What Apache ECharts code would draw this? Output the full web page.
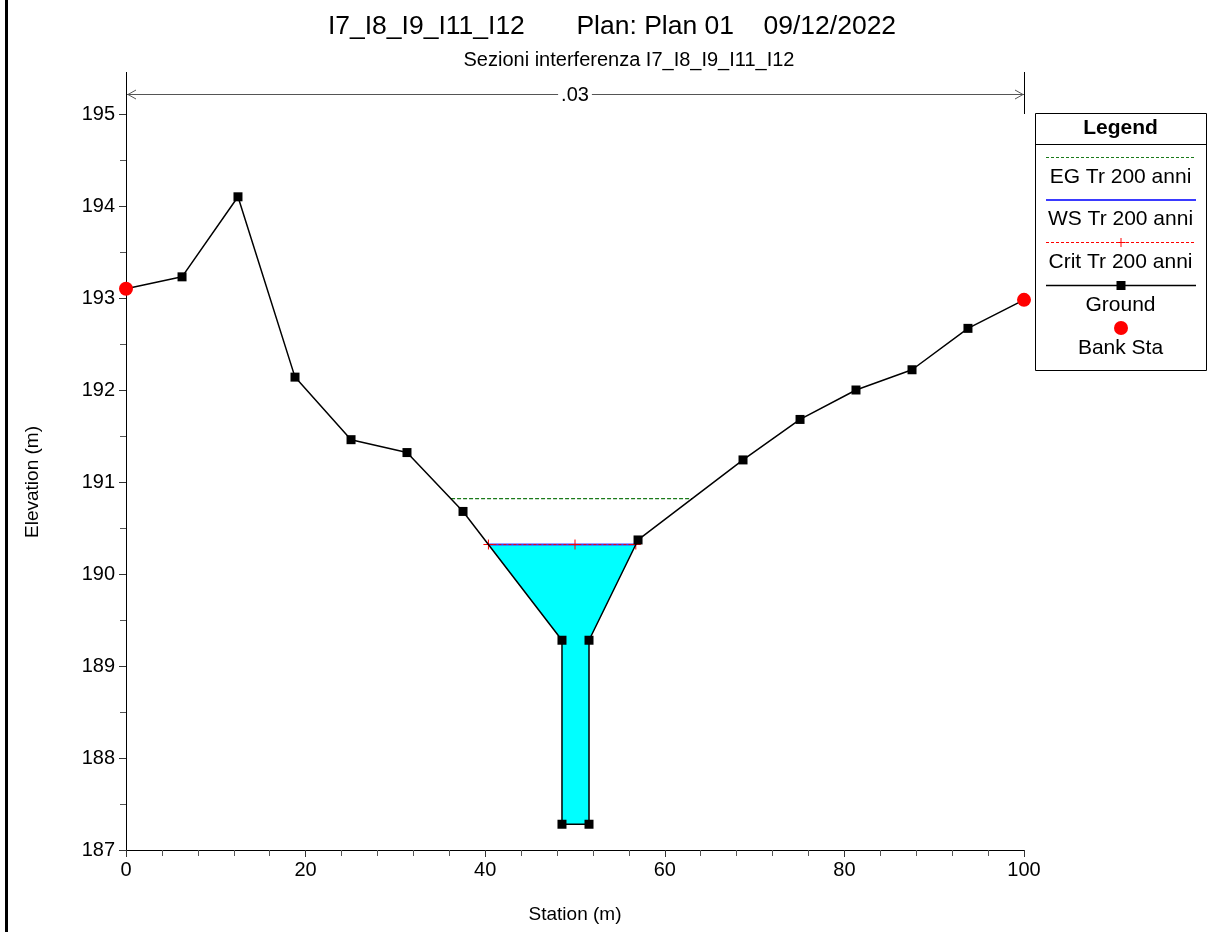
<!DOCTYPE html>
<html>
<head>
<meta charset="utf-8">
<script src="https://cdn.jsdelivr.net/npm/echarts@6/dist/echarts.min.js"></script>
<style>
html,body{margin:0;padding:0;background:#fff;}
#chart{width:1215px;height:932px;}
</style>
</head>
<body>
<div id="chart"></div>
<script>
// ---- data ----
var groundStation = [0, 6.24, 12.47, 18.82, 25.06, 31.29, 37.53, 48.55, 48.55, 51.56, 51.56, 57.02, 68.71, 75.06, 81.29, 87.53, 93.76, 100];
var groundElev    = [193.10, 193.23, 194.10, 192.14, 191.46, 191.32, 190.68, 189.28, 187.28, 187.28, 189.28, 190.37, 191.24, 191.68, 192.00, 192.22, 192.67, 192.98];
var bankStation = [0, 100];
var bankElev = [193.10, 192.98];
var egStation = [36.2, 63.05];
var egElev = 190.82;
var wsStation = [40.36, 56.77];
var wsElev = 190.32;
var critStation = [40.36, 50.0, 56.77];
var critElev = 190.32;
var waterStation = [40.36, 48.55, 48.55, 51.56, 51.56, 56.77];
var waterElev    = [190.32, 189.28, 187.28, 187.28, 189.28, 190.32];
var xTicks = [0, 20, 40, 60, 80, 100];
var yTicks = [187, 188, 189, 190, 191, 192, 193, 194, 195];
var manningLabel = '.03';
var manningRange = [0, 100];
var legendItems = ['EG Tr 200 anni', 'WS Tr 200 anni', 'Crit Tr 200 anni', 'Ground', 'Bank Sta'];

var FONT = '"Liberation Sans", Arial, sans-serif';
function pairs(xs, ys) {
  return xs.map(function (x, i) { return [x, Array.isArray(ys) ? ys[i] : ys]; });
}
var plusPath = 'path://M4.5,0h1v4.5h4.5v1h-4.5v4.5h-1v-4.5h-4.5v-1h4.5z';

var chart = echarts.init(document.getElementById('chart'), null, {renderer: 'canvas'});
var option = {
  backgroundColor: '#fff',
  animation: false,
  title: [
    {text: 'I7_I8_I9_I11_I12       Plan: Plan 01    09/12/2022', left: 607, top: 8, textAlign: 'center',
     textStyle: {fontFamily: FONT, fontSize: 26.5, fontWeight: 'normal', color: '#000'}},
    {text: 'Sezioni interferenza I7_I8_I9_I11_I12', left: 624, top: 45, textAlign: 'center',
     textStyle: {fontFamily: FONT, fontSize: 20, fontWeight: 'normal', color: '#000'}}
  ],
  grid: {left: 126, right: 191, top: 114, bottom: 82, containLabel: false},
  xAxis: {
    type: 'value', min: xTicks[0], max: xTicks[xTicks.length - 1], interval: 20,
    name: 'Station (m)', nameLocation: 'middle', nameGap: 55,
    nameTextStyle: {fontFamily: FONT, fontSize: 19, color: '#000'},
    axisLine: {show: true, onZero: false, lineStyle: {color: '#000', width: 1}},
    axisTick: {show: true, length: 7, lineStyle: {color: '#333'}},
    minorTick: {show: true, splitNumber: 5, length: 6, lineStyle: {color: '#555'}},
    axisLabel: {fontFamily: FONT, fontSize: 20, color: '#000', margin: 10},
    splitLine: {show: false}
  },
  yAxis: {
    type: 'value', min: yTicks[0], max: yTicks[yTicks.length - 1], interval: 1,
    name: 'Elevation (m)', nameLocation: 'middle', nameGap: 84,
    nameTextStyle: {fontFamily: FONT, fontSize: 19, color: '#000'},
    axisLine: {show: true, onZero: false, lineStyle: {color: '#000', width: 1}},
    axisTick: {show: true, length: 7, lineStyle: {color: '#333'}},
    minorTick: {show: true, splitNumber: 2, length: 6, lineStyle: {color: '#555'}},
    axisLabel: {fontFamily: FONT, fontSize: 20, color: '#000', margin: 11},
    splitLine: {show: false}
  },
  series: [
    {
      name: 'Water', type: 'custom', z: 1, silent: true,
      data: [0],
      renderItem: function (params, api) {
        var pts = waterStation.map(function (s, i) { return api.coord([s, waterElev[i]]); });
        return {type: 'polygon', shape: {points: pts}, style: {fill: '#00ffff', stroke: null}};
      }
    },
    {
      name: legendItems[0], type: 'line', z: 3, data: pairs(egStation, egElev), symbol: 'none',
      lineStyle: {color: '#1a7a1a', width: 1.2, type: [4, 2]}
    },
    {
      name: legendItems[1], type: 'line', z: 3, data: pairs(wsStation, wsElev), symbol: 'none',
      lineStyle: {color: '#3a3aff', width: 2}
    },
    {
      name: legendItems[2], type: 'line', z: 4, data: pairs(critStation, critElev),
      symbol: plusPath, symbolSize: 10, itemStyle: {color: '#ff0000'},
      lineStyle: {color: '#ff0000', width: 1, type: [3, 2]}
    },
    {
      name: legendItems[3], type: 'line', z: 5, data: pairs(groundStation, groundElev),
      symbol: 'rect', symbolSize: 9, itemStyle: {color: '#000'},
      lineStyle: {color: '#000', width: 1.5}
    },
    {
      name: legendItems[4], type: 'scatter', z: 6, data: pairs(bankStation, bankElev),
      symbol: 'circle', symbolSize: 14, itemStyle: {color: '#ff0000', borderWidth: 0, opacity: 1}
    }
  ]
};
chart.setOption(option);

// ---- annotations (dimension line, axis extension, legend box, frame) ----
var p0 = chart.convertToPixel({gridIndex: 0}, [manningRange[0], 195]);
var p1 = chart.convertToPixel({gridIndex: 0}, [manningRange[1], 195]);
var yTop = p0[1] - 42;
var yDim = p0[1] - 20;
var xl = p0[0], xr = p1[0];
var gray = '#555';
var LF = '21px ' + FONT;
var graphics = [
  {type: 'rect', shape: {x: 5, y: 0, width: 3, height: 932}, style: {fill: '#000'}},
  {type: 'line', shape: {x1: xl + 0.5, y1: p0[1], x2: xl + 0.5, y2: yTop}, style: {stroke: '#000', lineWidth: 1}},
  {type: 'line', shape: {x1: xr + 0.5, y1: p0[1], x2: xr + 0.5, y2: yTop}, style: {stroke: '#000', lineWidth: 1}},
  {type: 'line', shape: {x1: xl + 1, y1: yDim + 0.5, x2: xr, y2: yDim + 0.5}, style: {stroke: gray, lineWidth: 1}},
  {type: 'polyline', shape: {points: [[xl + 10, yDim - 4], [xl + 2, yDim + 0.5], [xl + 10, yDim + 5]]}, style: {stroke: gray, lineWidth: 1, fill: null}},
  {type: 'polyline', shape: {points: [[xr - 9, yDim - 4], [xr - 1, yDim + 0.5], [xr - 9, yDim + 5]]}, style: {stroke: gray, lineWidth: 1, fill: null}},
  {type: 'text', x: (xl + xr) / 2, y: yDim + 1, style: {text: manningLabel, font: '20px ' + FONT, fill: '#000',
    align: 'center', verticalAlign: 'middle', backgroundColor: '#fff', padding: [0, 3]}}
];
// legend box
var lx = 1035, ly = 113, lw = 171, lh = 257;
var lc = lx + lw / 2;
var sx1 = lx + 11, sx2 = lx + lw - 10;
graphics.push(
  {type: 'rect', shape: {x: lx + 0.5, y: ly + 0.5, width: lw, height: lh}, style: {fill: '#fff', stroke: '#000', lineWidth: 1}},
  {type: 'line', shape: {x1: lx, y1: ly + 31.5, x2: lx + lw, y2: ly + 31.5}, style: {stroke: '#000', lineWidth: 1}},
  {type: 'text', x: lc, y: ly + 15, style: {text: 'Legend', font: 'bold 21px ' + FONT, fill: '#000', align: 'center', verticalAlign: 'middle'}},
  {type: 'line', shape: {x1: sx1, y1: 157.5, x2: sx2, y2: 157.5}, style: {stroke: '#1a7a1a', lineWidth: 1, lineDash: [3, 2]}},
  {type: 'text', x: lc, y: 177, style: {text: legendItems[0], font: LF, fill: '#000', align: 'center', verticalAlign: 'middle'}},
  {type: 'line', shape: {x1: sx1, y1: 200, x2: sx2, y2: 200}, style: {stroke: '#3a3aff', lineWidth: 2}},
  {type: 'text', x: lc, y: 219, style: {text: legendItems[1], font: LF, fill: '#000', align: 'center', verticalAlign: 'middle'}},
  {type: 'line', shape: {x1: sx1, y1: 242.5, x2: sx2, y2: 242.5}, style: {stroke: '#ff0000', lineWidth: 1, lineDash: [3, 2]}},
  {type: 'line', shape: {x1: lc - 4, y1: 242.5, x2: lc + 5, y2: 242.5}, style: {stroke: '#ff0000', lineWidth: 1}},
  {type: 'line', shape: {x1: lc + 0.5, y1: 238, x2: lc + 0.5, y2: 247}, style: {stroke: '#ff0000', lineWidth: 1}},
  {type: 'text', x: lc, y: 262, style: {text: legendItems[2], font: LF, fill: '#000', align: 'center', verticalAlign: 'middle'}},
  {type: 'line', shape: {x1: sx1, y1: 285.5, x2: sx2, y2: 285.5}, style: {stroke: '#000', lineWidth: 1.5}},
  {type: 'rect', shape: {x: lc - 4, y: 281, width: 9, height: 9}, style: {fill: '#000'}},
  {type: 'text', x: lc, y: 305, style: {text: legendItems[3], font: LF, fill: '#000', align: 'center', verticalAlign: 'middle'}},
  {type: 'circle', shape: {cx: lc + 0.5, cy: 328, r: 7}, style: {fill: '#ff0000'}},
  {type: 'text', x: lc, y: 348, style: {text: legendItems[4], font: LF, fill: '#000', align: 'center', verticalAlign: 'middle'}}
);
chart.setOption({graphic: {elements: graphics.map(function (g) { g.z = 100; return g; })}});
</script>
</body>
</html>
